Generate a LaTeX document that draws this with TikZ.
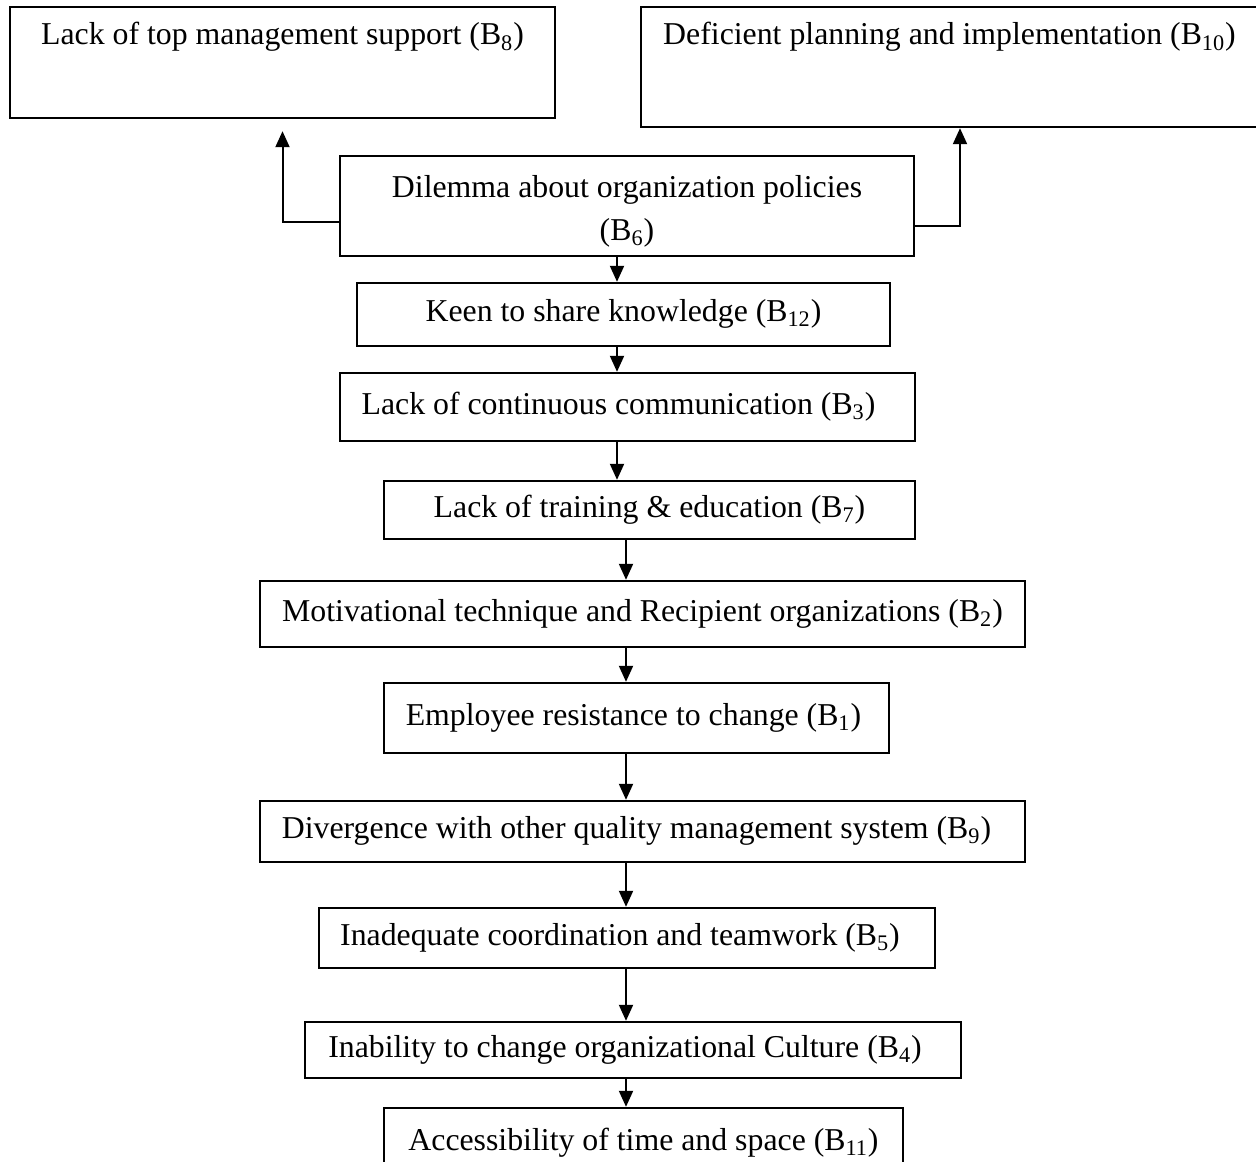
\documentclass[tikz,border=0pt]{standalone}
\usepackage{fontspec}
\setmainfont{Liberation Serif}
\usetikzlibrary{arrows.meta}
\newcommand{\bsub}[1]{(B\textsubscript{#1})}

\begin{document}
\begin{tikzpicture}[x=0.5pt,y=-0.5pt,
  box/.style={draw, line width=1.2pt, inner sep=0pt,
    font=\fontsize{15.9pt}{18.5pt}\selectfont},
  oneline/.style={box, text height=11pt, text depth=3.7pt},
  arr/.style={line width=1pt, -{Triangle[length=8pt,width=7pt]}}]

\useasboundingbox (0,0) rectangle (1256,1161);
\clip (0,0) rectangle (1256,1161);

% top boxes, text set near the top edge
\node[box, minimum width=272.5pt, text height=19pt, text depth=36.5pt]
  (b8) at (282.5,62.5) {Lack of top management support \bsub{8}};
\node[box, minimum width=308.5pt, text height=19pt, text depth=41pt]
  (b10) at (949.5,67) {Deficient planning and implementation \bsub{10}};

% central chain
\node[box, align=center, minimum width=287pt, minimum height=50pt]
  (b6) at (627,206) {\rule{0pt}{16pt}Dilemma about organization policies\\[3pt]\bsub{6}};
\node[oneline, minimum width=266.5pt, minimum height=31.5pt]
  (b12) at (623.5,314.5) {Keen to share knowledge \bsub{12}};
\node[oneline, minimum width=287.5pt, minimum height=34pt]
  (b3) at (627.5,407) {Lack of continuous communication \bsub{3}\hspace*{9pt}};
\node[oneline, minimum width=265.5pt, minimum height=29pt]
  (b7) at (649.5,510) {Lack of training \& education \bsub{7}};
\node[oneline, minimum width=382.5pt, minimum height=33pt]
  (b2) at (642.5,614) {Motivational technique and Recipient organizations \bsub{2}};
\node[oneline, minimum width=252.5pt, minimum height=35pt]
  (b1) at (636.5,718) {Employee resistance to change \bsub{1}\hspace*{3pt}};
\node[oneline, minimum width=382.5pt, minimum height=30.5pt]
  (b9) at (642.5,831.5) {Divergence with other quality management system \bsub{9}\hspace*{6pt}};
\node[oneline, minimum width=308pt, minimum height=30pt]
  (b5) at (627,938) {Inadequate coordination and teamwork \bsub{5}\hspace*{7pt}};
\node[oneline, minimum width=328pt, minimum height=28pt]
  (b4) at (633,1050) {Inability to change organizational Culture \bsub{4}\hspace*{8pt}};
\node[oneline, minimum width=259.5pt, minimum height=35pt]
  (b11) at (643.5,1143) {Accessibility of time and space \bsub{11}};

% guide coordinates for the connectors
\coordinate (xl) at (617,0);
\coordinate (xr) at (626,0);
\coordinate (yl) at (0,222);
\coordinate (yr) at (0,226);
\coordinate (xb) at (960,0);

% side branches
\draw[arr, shorten >=6pt] (b6.west |- yl) -| (b8.south);
\draw[arr] (b6.east |- yr) -| (xb |- b10.south);

% downward chain
\draw[arr] (xl |- b6.south) -- (xl |- b12.north);
\draw[arr] (xl |- b12.south) -- (xl |- b3.north);
\draw[arr] (xl |- b3.south) -- (xl |- b7.north);
\draw[arr] (xr |- b7.south) -- (xr |- b2.north);
\draw[arr] (xr |- b2.south) -- (xr |- b1.north);
\draw[arr] (xr |- b1.south) -- (xr |- b9.north);
\draw[arr] (xr |- b9.south) -- (xr |- b5.north);
\draw[arr] (xr |- b5.south) -- (xr |- b4.north);
\draw[arr] (xr |- b4.south) -- (xr |- b11.north);
\end{tikzpicture}
\end{document}
